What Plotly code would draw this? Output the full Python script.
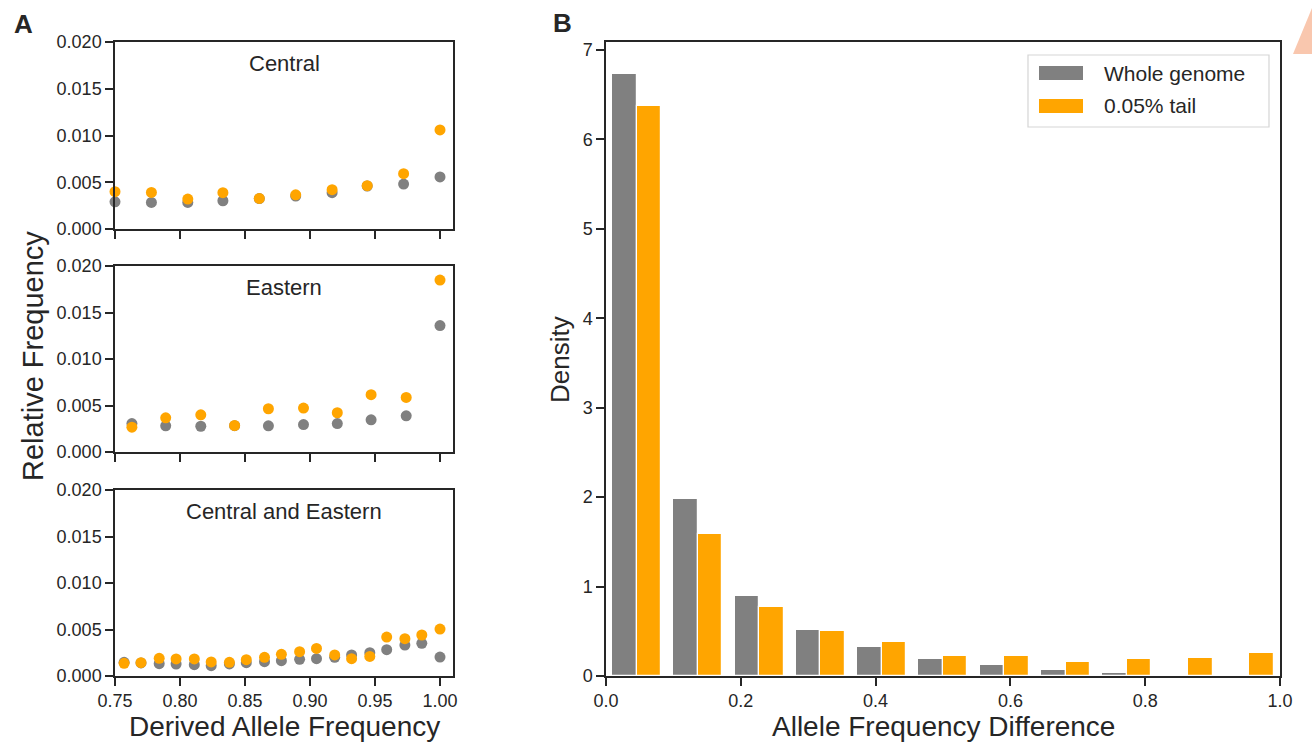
import plotly.graph_objects as go

# ---------------- Panel A data ----------------
central_daf = [0.750, 0.778, 0.806, 0.833, 0.861, 0.889, 0.917, 0.944, 0.972, 1.000]
central_whole = [0.00291, 0.00284, 0.00284, 0.00302, 0.00325, 0.00352, 0.00388, 0.00460, 0.00481, 0.00557]
central_tail = [0.00399, 0.00391, 0.00320, 0.00388, 0.00327, 0.00366, 0.00420, 0.00463, 0.00592, 0.01059]

eastern_daf = [0.763, 0.789, 0.816, 0.842, 0.868, 0.895, 0.921, 0.947, 0.974, 1.000]
eastern_whole = [0.00306, 0.00281, 0.00277, 0.00283, 0.00281, 0.00295, 0.00306, 0.00346, 0.00389, 0.01359]
eastern_tail = [0.00267, 0.00368, 0.00400, 0.00285, 0.00465, 0.00472, 0.00422, 0.00616, 0.00587, 0.01849]

both_daf = [0.757, 0.770, 0.784, 0.797, 0.811, 0.824, 0.838, 0.851, 0.865, 0.878,
            0.892, 0.905, 0.919, 0.932, 0.946, 0.959, 0.973, 0.986, 1.000]
both_whole = [0.00147, 0.00140, 0.00133, 0.00129, 0.00122, 0.00111, 0.00130, 0.00143, 0.00154, 0.00165,
              0.00179, 0.00186, 0.00201, 0.00226, 0.00251, 0.00283, 0.00333, 0.00351, 0.00204]
both_tail = [0.00136, 0.00143, 0.00190, 0.00183, 0.00183, 0.00151, 0.00147, 0.00176, 0.00201, 0.00233,
             0.00262, 0.00297, 0.00226, 0.00186, 0.00211, 0.00419, 0.00401, 0.00441, 0.00505]

panel_titles = ["Central", "Eastern", "Central and Eastern"]

# ---------------- Panel B data ----------------
bin_left = [0.0000, 0.0909, 0.1818, 0.2727, 0.3636, 0.4545, 0.5455, 0.6364, 0.7273, 0.8182, 0.9091]
bin_width = 0.0909
density_whole = [6.73, 1.98, 0.89, 0.51, 0.32, 0.19, 0.12, 0.07, 0.035, 0.007, 0.0]
density_tail = [6.37, 1.59, 0.775, 0.50, 0.377, 0.224, 0.224, 0.157, 0.186, 0.20, 0.257]

series_names = ["Whole genome", "0.05% tail"]
GRAY = "#808080"
ORANGE = "#FFA500"
TXT = "#262626"
FONT = "Liberation Sans, Arial, sans-serif"

W, H = 1312, 742
def px(x):
    return x / W
def py(y):
    return 1 - y / H

fig = go.Figure()

left_sets = [
    (central_daf, central_whole, central_tail),
    (eastern_daf, eastern_whole, eastern_tail),
    (both_daf, both_whole, both_tail),
]
for i, (xs, yw, yt) in enumerate(left_sets):
    ax = "" if i == 0 else str(i + 1)
    fig.add_trace(go.Scatter(x=xs, y=yw, mode="markers", name=series_names[0],
                             marker=dict(color=GRAY, size=11), showlegend=False,
                             xaxis="x" + ax, yaxis="y" + ax, cliponaxis=False))
    fig.add_trace(go.Scatter(x=xs, y=yt, mode="markers", name=series_names[1],
                             marker=dict(color=ORANGE, size=11), showlegend=False,
                             xaxis="x" + ax, yaxis="y" + ax, cliponaxis=False))

fig.add_trace(go.Bar(x=bin_left, y=density_whole, name=series_names[0],
                     offset=0.1 * bin_width, width=0.4 * bin_width,
                     marker=dict(color=GRAY, line=dict(color="white", width=1.2)),
                     showlegend=False, xaxis="x4", yaxis="y4"))
fig.add_trace(go.Bar(x=bin_left, y=density_tail, name=series_names[1],
                     offset=0.5 * bin_width, width=0.4 * bin_width,
                     marker=dict(color=ORANGE, line=dict(color="white", width=1.2)),
                     showlegend=False, xaxis="x4", yaxis="y4"))

axis_common = dict(showline=True, linecolor=TXT, linewidth=1.5, mirror=True,
                   ticks="outside", ticklen=8, tickwidth=1.5, tickcolor=TXT,
                   showgrid=False, zeroline=False, automargin=False,
                   tickfont=dict(family=FONT, size=18, color=TXT))

left_dom_x = [px(115), px(453)]
left_dom_y = [[py(229), py(42)], [py(452), py(266)], [py(676), py(490)]]

layout = dict(
    template="none",
    width=W, height=H, margin=dict(l=0, r=0, t=0, b=0, pad=0), autosize=False,
    paper_bgcolor="white", plot_bgcolor="white",
    barmode="overlay", bargap=0,
    font=dict(family=FONT, color=TXT),
)
for i in range(3):
    ax = "" if i == 0 else str(i + 1)
    layout["xaxis" + ax] = dict(axis_common, domain=left_dom_x, anchor="y" + ax,
                                range=[0.75, 1.01],
                                tickvals=[0.75, 0.80, 0.85, 0.90, 0.95, 1.00],
                                tickformat=".2f", showticklabels=(i == 2))
    layout["yaxis" + ax] = dict(axis_common, domain=left_dom_y[i], anchor="x" + ax,
                                range=[0, 0.02], tickvals=[0, 0.005, 0.01, 0.015, 0.02],
                                tickformat=".3f")
layout["xaxis4"] = dict(axis_common, domain=[px(606), px(1280)], anchor="y4",
                        range=[0, 1.0], tickvals=[0, 0.2, 0.4, 0.6, 0.8, 1.0], tickformat=".1f")
layout["yaxis4"] = dict(axis_common, domain=[py(676), py(42)], anchor="x4",
                        range=[0, 7.09], tickvals=[0, 1, 2, 3, 4, 5, 6, 7])

fig.update_layout(**layout)

ann = []
for i, t in enumerate(panel_titles):
    ax = "" if i == 0 else str(i + 1)
    ann.append(dict(text=t, xref=f"x{ax} domain", yref=f"y{ax} domain", x=0.5, y=0.885,
                    xanchor="center", yanchor="middle", showarrow=False,
                    font=dict(family=FONT, size=22, color=TXT)))
ann += [
    dict(text="<b>A</b>", xref="paper", yref="paper", x=px(23), y=py(24),
         xanchor="center", yanchor="middle", showarrow=False, font=dict(family=FONT, size=26, color=TXT)),
    dict(text="<b>B</b>", xref="paper", yref="paper", x=px(562), y=py(23),
         xanchor="center", yanchor="middle", showarrow=False, font=dict(family=FONT, size=26, color=TXT)),
    dict(text="Relative Frequency", xref="paper", yref="paper", x=px(33), y=py(356), textangle=-90,
         xanchor="center", yanchor="middle", showarrow=False, font=dict(family=FONT, size=29, color=TXT)),
    dict(text="Derived Allele Frequency", xref="paper", yref="paper", x=px(284), y=py(726),
         xanchor="center", yanchor="middle", showarrow=False, font=dict(family=FONT, size=28, color=TXT)),
    dict(text="Density", xref="paper", yref="paper", x=px(560), y=py(360), textangle=-90,
         xanchor="center", yanchor="middle", showarrow=False, font=dict(family=FONT, size=26, color=TXT)),
    dict(text="Allele Frequency Difference", xref="paper", yref="paper", x=px(943), y=py(726),
         xanchor="center", yanchor="middle", showarrow=False, font=dict(family=FONT, size=28, color=TXT)),
    # legend texts
    dict(text=series_names[0], xref="paper", yref="paper", x=px(1102), y=py(73),
         xanchor="left", yanchor="middle", showarrow=False, font=dict(family=FONT, size=21, color=TXT)),
    dict(text=series_names[1], xref="paper", yref="paper", x=px(1102), y=py(106),
         xanchor="left", yanchor="middle", showarrow=False, font=dict(family=FONT, size=21, color=TXT)),
]
fig.update_layout(annotations=ann)

shapes = [
    # legend frame
    dict(type="rect", xref="paper", yref="paper", x0=px(1028), x1=px(1269), y0=py(127), y1=py(55),
         line=dict(color="#D5D5D5", width=1.2), fillcolor="white", layer="above"),
    dict(type="rect", xref="paper", yref="paper", x0=px(1039), x1=px(1083), y0=py(80), y1=py(66),
         line=dict(width=0), fillcolor=GRAY, layer="above"),
    dict(type="rect", xref="paper", yref="paper", x0=px(1039), x1=px(1083), y0=py(113), y1=py(99),
         line=dict(width=0), fillcolor=ORANGE, layer="above"),
    # decorative stripe at the top-right corner
    dict(type="path", xref="paper", yref="paper",
         path=f"M {px(1312)} {py(8)} L {px(1293)} {py(54)} L {px(1312)} {py(54)} Z",
         line=dict(width=0), fillcolor="#F9C7AE", layer="below"),
]
fig.update_layout(shapes=shapes)

fig.write_html("out.html", config={"displayModeBar": False},
               post_script="document.body.style.margin='0';")
